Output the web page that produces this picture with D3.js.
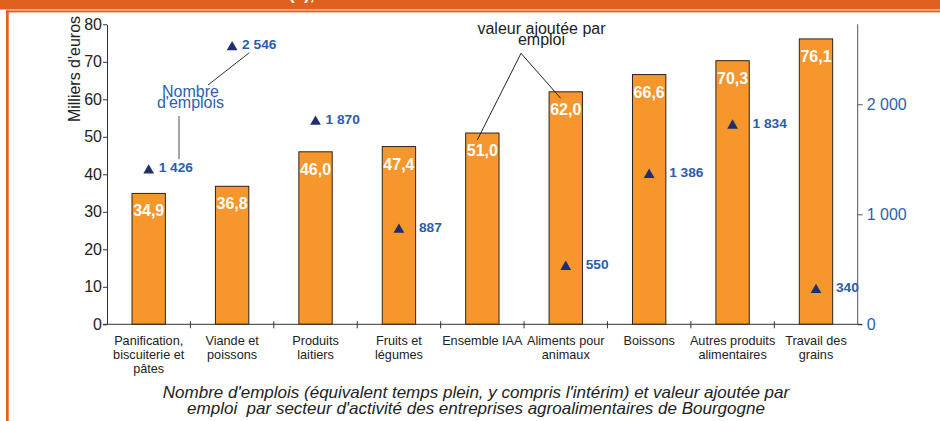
<!DOCTYPE html>
<html><head><meta charset="utf-8">
<script src="https://cdn.jsdelivr.net/npm/d3@7"></script>
<style>
html,body{margin:0;padding:0;background:#fff;}
svg{display:block;font-family:"Liberation Sans",Arial,Helvetica,sans-serif;}
</style></head>
<body>
<script>
// ---- data ----
const categories = [
  "Panification,\nbiscuiterie et\npâtes",
  "Viande et\npoissons",
  "Produits\nlaitiers",
  "Fruits et\nlégumes",
  "Ensemble IAA",
  "Aliments pour\nanimaux",
  "Boissons",
  "Autres produits\nalimentaires",
  "Travail des\ngrains"
];
const valeurAjoutee = [34.9, 36.8, 46.0, 47.4, 51.0, 62.0, 66.6, 70.3, 76.1];
const emplois = [1426, 2546, 1870, 887, null, 550, 1386, 1834, 340];
const leftTicks = [0, 10, 20, 30, 40, 50, 60, 70, 80];
const rightTicks = [0, 1000, 2000];
const caption = [
  "Nombre d'emplois (équivalent temps plein, y compris l'intérim) et valeur ajoutée par",
  "emploi  par secteur d'activité des entreprises agroalimentaires de Bourgogne"
];

const W = 940, H = 421;
const svg = d3.select("body").append("svg").attr("width", W).attr("height", H);

// frame
const orange = "#E0601F";
svg.append("rect").attr("x",0).attr("y",0).attr("width",W).attr("height",9.5).attr("fill",orange);
svg.append("text").attr("x",289).attr("y",0).attr("fill","#fff").attr("font-weight","bold")
  .attr("font-size",17).text("(1),");
svg.append("rect").attr("x",6).attr("y",10.4).attr("width",W-6).attr("height",2).attr("fill",orange);
svg.append("rect").attr("x",6).attr("y",10.4).attr("width",2.7).attr("height",H).attr("fill",orange);

// scales
const x = d3.scaleBand().domain(categories).range([107, 857.7]).padding(0);
const yL = d3.scaleLinear().domain([0, 80]).range([324.3, 24.3]);
const yR = d3.scaleLinear().domain([0, 2727]).range([324.3, 24.3]);
const bw = x.bandwidth() * 0.4;
const cx = c => x(c) + x.bandwidth() / 2;
const fmtSpace = v => d3.format(",")(v).replace(/,/g, " ");

// bars
svg.append("g").selectAll("rect").data(categories).join("rect")
  .attr("x", c => cx(c) - bw/2)
  .attr("y", (c,i) => yL(valeurAjoutee[i]))
  .attr("width", bw)
  .attr("height", (c,i) => yL(0) - yL(valeurAjoutee[i]))
  .attr("fill", "#F7962C").attr("stroke", "#2e241a").attr("stroke-width", 1);

svg.append("g").selectAll("text").data(categories).join("text")
  .attr("x", c => cx(c))
  .attr("y", (c,i) => yL(valeurAjoutee[i]) + 23)
  .attr("text-anchor","middle").attr("fill","#fff").attr("font-weight","bold").attr("font-size",16)
  .text((c,i) => valeurAjoutee[i].toFixed(1).replace(".", ","));

// left axis
const gL = svg.append("g").attr("transform","translate(107,0)")
  .call(d3.axisLeft(yL).tickValues(leftTicks).tickSize(4).tickSizeOuter(0).tickPadding(1).tickFormat(d3.format("d")));
gL.selectAll("path,line").attr("stroke","#333");
gL.selectAll("text").attr("font-size",16).attr("fill","#222").attr("font-family","Liberation Sans, Arial, sans-serif");

// right axis
const gR = svg.append("g").attr("transform","translate(857.7,0)")
  .call(d3.axisRight(yR).tickValues(rightTicks).tickSize(5).tickSizeOuter(0).tickPadding(4).tickFormat(fmtSpace));
gR.select("path").attr("d", `M0,${yR.range()[1]}V${yR.range()[0]}`).attr("stroke","#555");
gR.selectAll("line").attr("stroke","#555");
gR.selectAll("text").attr("font-size",16).attr("fill","#2E5FAE").attr("font-family","Liberation Sans, Arial, sans-serif");

// x axis
svg.append("line").attr("x1",103).attr("x2",862).attr("y1",yL(0)).attr("y2",yL(0)).attr("stroke","#333");
svg.append("g").selectAll("line").data(categories.slice(1)).join("line")
  .attr("x1", c => x(c)).attr("x2", c => x(c))
  .attr("y1", yL(0) - 3).attr("y2", yL(0) + 4).attr("stroke","#333");

const xl = svg.append("g").selectAll("text").data(categories).join("text")
  .attr("x", c => cx(c)).attr("y", 345)
  .attr("text-anchor","middle").attr("font-size",12.7).attr("fill","#222");
xl.each(function(c){
  const t = d3.select(this);
  c.split("\n").forEach((ln, k) => {
    t.append("tspan").attr("x", cx(c)).attr("dy", k ? 14.2 : 0).text(ln);
  });
});

// y title
svg.append("text").attr("transform","translate(80,69) rotate(-90)")
  .attr("text-anchor","middle").attr("font-size",16).attr("fill","#222").text("Milliers d'euros");

// employment markers
const empData = categories.map((c,i) => ({c, v: emplois[i], i})).filter(d => d.v != null);
svg.append("g").selectAll("path").data(empData).join("path")
  .attr("d", d3.symbol(d3.symbolTriangle, 50))
  .attr("transform", d => `translate(${cx(d.c)},${yR(d.v) + 3})`)
  .attr("fill", "#1F2E6E");
svg.append("g").selectAll("text").data(empData).join("text")
  .attr("x", d => cx(d.c) + (d.i < 3 ? 10 : 20))
  .attr("y", d => yR(d.v) + 5)
  .attr("font-size",13.7).attr("font-weight","bold").attr("fill","#2B5DAB")
  .text(d => fmtSpace(d.v));

// annotations
const ann = svg.append("g");
ann.append("text").attr("x",190.5).attr("y",96.5).attr("text-anchor","middle")
  .attr("font-size",16).attr("fill","#2E5FAE").text("Nombre");
ann.append("text").attr("x",190.5).attr("y",108.3).attr("text-anchor","middle")
  .attr("font-size",16).attr("fill","#2E5FAE").text("d'emplois");
ann.append("line").attr("x1",208).attr("y1",85).attr("x2",249.3).attr("y2",52.7).attr("stroke","#333");
ann.append("line").attr("x1",179).attr("y1",116).attr("x2",179).attr("y2",159.3).attr("stroke","#888").attr("stroke-width",1.5);

ann.append("text").attr("x",541.5).attr("y",33.5).attr("text-anchor","middle")
  .attr("font-size",16).attr("fill","#222").text("valeur ajoutée par");
ann.append("text").attr("x",541.5).attr("y",45.3).attr("text-anchor","middle")
  .attr("font-size",16).attr("fill","#222").text("emploi");
ann.append("line").attr("x1",521).attr("y1",53.3).attr("x2",560.7).attr("y2",98.3).attr("stroke","#222");
ann.append("line").attr("x1",521).attr("y1",53.3).attr("x2",477.3).attr("y2",140).attr("stroke","#222");

// caption
svg.append("g").selectAll("text").data(caption).join("text")
  .attr("x", 476).attr("y", (d,i) => 398.3 + i*15.8)
  .attr("text-anchor","middle").attr("font-size",17).attr("font-style","italic").attr("fill","#222")
  .style("white-space","pre").text(d => d);
</script>
</body></html>
